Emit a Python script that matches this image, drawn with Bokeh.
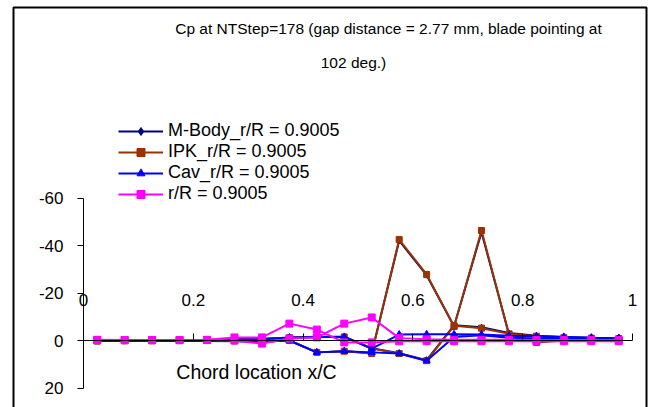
from bokeh.plotting import figure
from bokeh.models import (Range1d, LinearAxis, FixedTicker, Legend, LegendItem,
                          Label, BoxAnnotation)
from bokeh.embed import file_html
from bokeh.resources import INLINE

# Chord stations x/C (same stations on both blade surfaces)
chord = [0.025, 0.075, 0.125, 0.175, 0.225, 0.275, 0.325, 0.375, 0.425, 0.475,
         0.525, 0.575, 0.625, 0.675, 0.725, 0.775, 0.825, 0.875, 0.925, 0.975]

# Cp, first surface / second surface
mbody_s1 = [0.2, 0.1, 0.1, 0.1, 0.0, 0.2, 0.4, 0.0, 5.0, 4.5,
            5.3, -42.0, -27.5, -6.0, -45.6, -2.6, 0.5, -0.2, -0.5, -0.6]
mbody_s2 = [0.2, 0.1, 0.1, 0.0, 0.0, -0.5, -0.6, -1.3, -1.6, -1.6,
            3.3, 5.4, 8.3, -6.4, -5.6, -3.2, -2.0, -1.5, -1.2, -1.0]

ipk_s1 = [0.2, 0.1, 0.1, 0.1, 0.0, 0.2, 0.4, 0.0, 5.0, 4.5,
          5.5, -42.5, -27.8, -5.9, -46.3, -2.5, 0.8, 0.0, -0.3, -0.5]
ipk_s2 = [0.2, 0.1, 0.1, 0.0, 0.0, -0.5, -0.6, -1.2, -1.5, -1.5,
          3.4, 5.5, 8.5, -6.2, -5.2, -2.8, -1.8, -1.2, -1.0, -0.8]

cav_s1 = [0.2, 0.1, 0.1, 0.0, 0.0, -0.5, -0.6, -1.2, -1.5, -1.5,
          3.4, -2.5, -2.6, -2.6, -2.5, -2.0, -1.8, -1.5, -1.2, -1.0]
cav_s2 = [0.2, 0.2, 0.2, 0.2, 0.2, 0.3, 0.5, 0.0, 5.0, 4.5,
          5.0, 5.5, 8.5, -1.5, -2.2, -1.2, -0.8, -0.8, -0.8, -1.0]

rr_s1 = [-0.3, -0.2, -0.2, -0.2, -0.3, -1.3, -1.3, -7.1, -4.6, 0.8,
         0.8, 0.3, 0.3, 0.3, 0.3, 0.3, 0.3, 0.3, 0.3, 0.3]
rr_s2 = [-0.2, -0.2, -0.2, -0.2, -0.2, 0.0, 1.3, -0.8, -1.3, -7.1,
         -9.7, -1.0, -0.5, -0.3, -0.3, -0.3, -0.2, -0.2, -0.2, -0.2]

series_names = ["M-Body_r/R = 0.9005", "IPK_r/R = 0.9005",
                "Cav_r/R = 0.9005", "r/R = 0.9005"]

x_ticks = [0, 0.2, 0.4, 0.6, 0.8, 1]
x_tick_labels = ["0", "0.2", "0.4", "0.6", "0.8", "1"]
y_ticks = [-60, -40, -20, 0, 20]
y_tick_labels = ["-60", "-40", "-20", "0", "20"]

title_line1 = "Cp at NTStep=178 (gap distance = 2.77 mm, blade pointing at"
title_line2 = "102 deg.)"
x_title = "Chord location x/C"

# Page geometry: x/C 0..1 spans pixels 83..632, Cp 0 sits at pixel row 340
X0_PX, X1_PX = 83, 632
Y0_PX, PX_PER_CP = 340, 2.375
W, H = 653, 407


def px_x(px):
    return (px - X0_PX) / (X1_PX - X0_PX)


def px_y(py):
    return (py - Y0_PX) / PX_PER_CP


FONT = "'Liberation Sans', Arial, sans-serif"

p = figure(width=W, height=H, output_backend="svg", toolbar_location=None,
           x_range=Range1d(px_x(0), px_x(W)),
           y_range=Range1d(px_y(H), px_y(0)),   # Cp axis reversed
           x_axis_location=None, y_axis_location=None,
           min_border=0, outline_line_color=None,
           background_fill_color="white", border_fill_color="white")
p.xgrid.visible = False
p.ygrid.visible = False

# chart-area frame
p.add_layout(BoxAnnotation(left=px_x(13), right=px_x(646), top=px_y(7), bottom=px_y(H + 30),
                           fill_alpha=0, line_color="black", line_alpha=1, line_width=2))

# Cp axis on the left edge of the chord range
yaxis = LinearAxis(fixed_location=0, bounds=(y_ticks[0], y_ticks[-1]),
                   ticker=FixedTicker(ticks=y_ticks, minor_ticks=[]),
                   major_label_overrides=dict(zip(y_ticks, y_tick_labels)),
                   major_tick_out=6, major_tick_in=0, minor_tick_out=0, minor_tick_in=0,
                   axis_line_color="black", major_tick_line_color="black",
                   major_label_standoff=14,
                   major_label_text_font=FONT, major_label_text_font_size="17px",
                   major_label_text_color="black")
p.add_layout(yaxis, "left")

# chord axis crossing at Cp = 0, labels above the line
xaxis = LinearAxis(fixed_location=0, bounds=(x_ticks[0], x_ticks[-1]),
                   ticker=FixedTicker(ticks=x_ticks, minor_ticks=[]),
                   major_label_overrides=dict(zip(x_ticks, x_tick_labels)),
                   major_tick_out=7, major_tick_in=0, minor_tick_out=0, minor_tick_in=0,
                   axis_line_color="black", major_tick_line_color="black",
                   major_label_standoff=28,
                   major_label_text_font=FONT, major_label_text_font_size="17px",
                   major_label_text_color="black")
p.add_layout(xaxis, "above")

styles = [
    ("#000080", "diamond", 6),
    ("#993300", "square", 6),
    ("#0000FF", "triangle", 7),
    ("#FF00FF", "square", 7),
]
surfaces = [(mbody_s1, mbody_s2), (ipk_s1, ipk_s2), (cav_s1, cav_s2), (rr_s1, rr_s2)]

items = []
for name, (s1, s2), (color, marker, size) in zip(series_names, surfaces, styles):
    xs = chord + chord[::-1]
    ys = s1 + s2[::-1]
    lr = p.line(xs, ys, line_color=color, line_width=2)
    sr = p.scatter(xs, ys, marker=marker, size=size, fill_color=color, line_color=color)
    items.append(LegendItem(label=name, renderers=[lr, sr]))

legend = Legend(items=items, location=(118, 203), orientation="vertical",
                border_line_color=None, background_fill_alpha=0,
                padding=0, margin=0, spacing=0,
                glyph_width=45, glyph_height=20, label_height=20, label_standoff=5,
                label_text_font=FONT, label_text_font_size="18px",
                label_text_color="black")
p.add_layout(legend)

for txt, cx, cy in [(title_line1, 388, 28), (title_line2, 353, 62)]:
    p.add_layout(Label(x=px_x(cx), y=px_y(cy), text=txt, text_align="center",
                       text_baseline="middle", text_font=FONT,
                       text_font_size="15.5px", text_color="black"))

p.add_layout(Label(x=px_x(256), y=px_y(371), text=x_title, text_align="center",
                   text_baseline="middle", text_font=FONT,
                   text_font_size="19.5px", text_color="black"))

open("out.html", "w").write(file_html(p, INLINE))
